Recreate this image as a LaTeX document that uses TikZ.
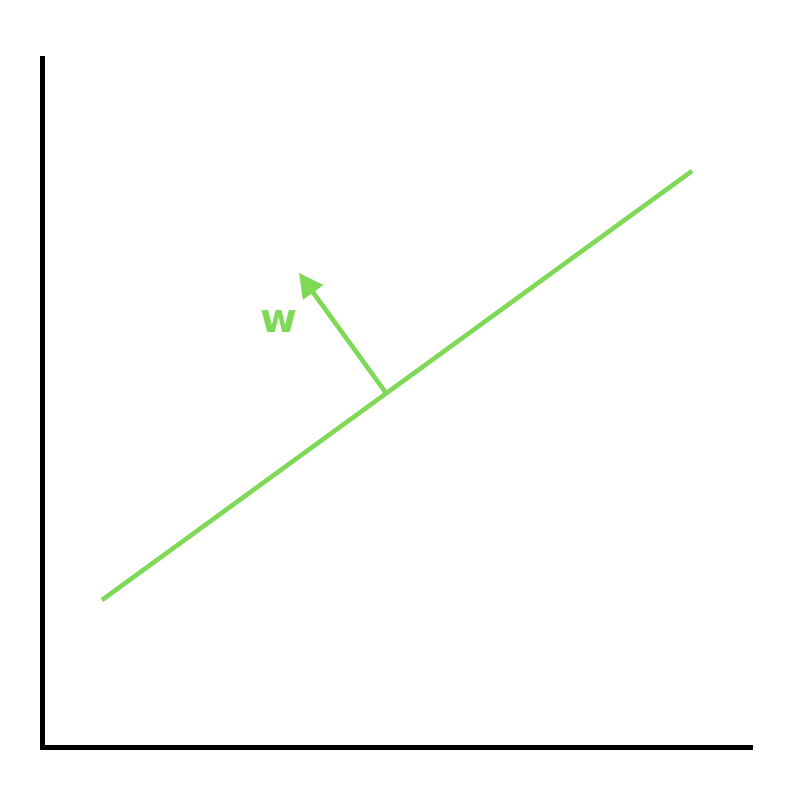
\documentclass[tikz,border=0pt]{standalone}
\usepackage{fontspec}
\setmainfont{DejaVu Sans}
\usetikzlibrary{arrows.meta}
\definecolor{lgreen}{RGB}{126,217,87}
\begin{document}
\begin{tikzpicture}[x=1pt,y=-1pt,
  axis/.style={line width=5pt,black},
  gline/.style={line width=4.5pt,lgreen},
  warrow/.style={line width=4.5pt,lgreen,-{Triangle[length=24pt,width=24pt]}}]
\useasboundingbox[fill=white] (0,0) rectangle (804,792);
\coordinate (top) at (42,56);
\coordinate (origin) at (42,747);
\coordinate (right) at (753,747);
\draw[axis] (top) -- (origin) -- (right);
\coordinate (a) at (102,600);
\coordinate (b) at (692,171);
\draw[gline] (a) -- (b);
\coordinate (foot) at (386,393);
\coordinate (tip) at (299,273);
\draw[warrow] (foot) -- (tip);
\node[text=lgreen,font=\bfseries\fontsize{40}{40}\selectfont,inner sep=0pt] (w) at (279,322) {w};
\end{tikzpicture}
\end{document}
